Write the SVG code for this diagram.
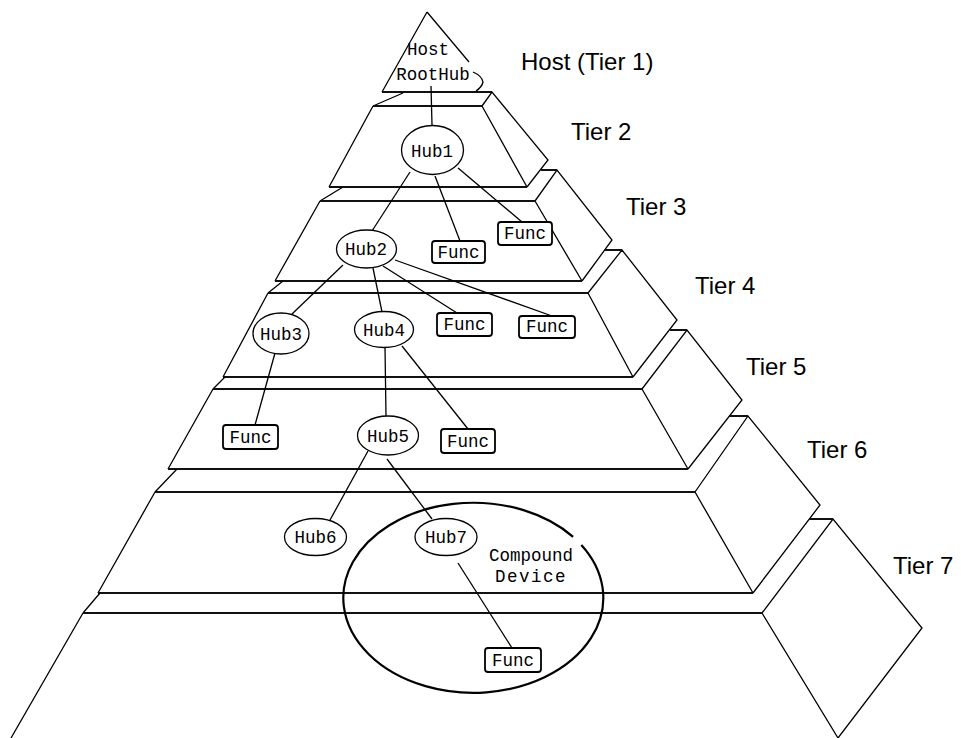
<svg xmlns="http://www.w3.org/2000/svg" width="961" height="738" viewBox="0 0 961 738">
<style>
.edge{fill:none;stroke:#000;stroke-width:1.3;stroke-linejoin:miter}
.front{fill:#fff;stroke:#000;stroke-width:1.3}
.hline{fill:none;stroke:#111;stroke-width:1.8}
.link{fill:none;stroke:#000;stroke-width:1.3}
.hub{fill:#fff;stroke:#000;stroke-width:1.3}
.func{fill:#fff;stroke:#000;stroke-width:1.8}
.nt{font-family:"Liberation Mono","DejaVu Sans Mono",monospace;font-size:17.5px;fill:#000;text-anchor:middle}
.tier{font-family:"Liberation Sans",Arial,sans-serif;font-size:24px;fill:#000}
.cd{fill:none;stroke:#000;stroke-width:2.2}
</style>
<rect width="961" height="738" fill="#fff"/>
<g id="pyramid">
  <g id="tier1">
    <path class="edge" d="M427,12 L382,92 M427,12 L469,62 M473,72 Q482,76 483,82 Q482,87 476,91"/>
    <path class="hline" d="M382,92 L492,92"/>
  </g>
  <g id="tier2">
    <path class="edge" d="M373,106 L329,187 M482,106 L527,187 M482,106 L492,92 L548,160 L527,187 M403,93 L373,106"/>
    <path class="hline" d="M373,106 L482,106 M329,187 L527,187"/>
  </g>
  <g id="tier3">
    <path class="edge" d="M320,201 L275,281 M535,201 L582,281 M535,201 L557,170 L612,240 L582,281 M343,187 L320,201"/>
    <path class="hline" d="M320,201 L535,201 M275,281 L582,281 M541,170 L557,170"/>
  </g>
  <g id="tier4">
    <path class="edge" d="M268,293 L223,377 M588,293 L633,377 M588,293 L622,250 L677,320 L633,377 M283,281 L268,293"/>
    <path class="hline" d="M268,293 L588,293 M223,377 L633,377 M605,250 L622,250"/>
  </g>
  <g id="tier5">
    <path class="edge" d="M213,389 L168,469 M642,389 L688,469 M642,389 L687,330 L742,400 L688,469 M225,377 L213,389"/>
    <path class="hline" d="M213,389 L642,389 M168,469 L688,469 M670,330 L687,330"/>
  </g>
  <g id="tier6">
    <path class="edge" d="M155,492 L98,593 M695,492 L753,593 M695,492 L748,416 L820,505 L753,593 M177,469 L155,492"/>
    <path class="hline" d="M155,492 L695,492 M98,593 L753,593 M729,416 L748,416"/>
  </g>
  <g id="tier7">
    <path class="edge" d="M83,613 L11,738 M762,613 L838,738 M762,613 L833,519 L922,628 L838,738 M100,593 L83,613"/>
    <path class="hline" d="M83,613 L762,613 M809,519 L833,519"/>
  </g>
</g>
<g id="labels">
  <text class="tier" x="521" y="70">Host (Tier 1)</text>
  <text class="tier" x="571" y="140">Tier 2</text>
  <text class="tier" x="626" y="215">Tier 3</text>
  <text class="tier" x="695" y="294">Tier 4</text>
  <text class="tier" x="746" y="375">Tier 5</text>
  <text class="tier" x="807" y="458">Tier 6</text>
  <text class="tier" x="893" y="574">Tier 7</text>
</g>
<g id="compound-device">
  <path class="cd" d="M581.3,544.9 A130,95 0 1 1 573.1,536.9"/>
  <text class="nt" x="531" y="561">Compound</text>
  <text class="nt" x="531" y="582" letter-spacing="1.5">Device</text>
</g>
<g id="connectors">
  <path class="link" d="M431,86 L432,125"/>
  <path class="link" d="M410,172 L372,231"/>
  <path class="link" d="M435,176 L460,241"/>
  <path class="link" d="M458,168 L522,222"/>
  <path class="link" d="M343,265 L292,314"/>
  <path class="link" d="M373,268 L382,312"/>
  <path class="link" d="M383,266 L457,313"/>
  <path class="link" d="M395,260 L552,316"/>
  <path class="link" d="M275,353 L255,425"/>
  <path class="link" d="M385,347 L386,416"/>
  <path class="link" d="M402,346 L468,429"/>
  <path class="link" d="M368,451 L330,520"/>
  <path class="link" d="M387,459 L432,519"/>
  <path class="link" d="M458,563 L512,648"/>
</g>
<g id="host">
  <text class="nt" x="428" y="55">Host</text>
  <text class="nt" x="433" y="80">RootHub</text>
</g>
<g id="hub1"><ellipse class="hub" cx="432.5" cy="150" rx="31" ry="24.5"/><text class="nt" x="432" y="157">Hub1</text></g>
<g id="hub2"><ellipse class="hub" cx="366.5" cy="249" rx="30" ry="19"/><text class="nt" x="366" y="255">Hub2</text></g>
<g id="func-t3a"><rect class="func" x="432" y="241" width="53" height="22" rx="3"/><text class="nt" x="458.5" y="258">Func</text></g>
<g id="func-t3b"><rect class="func" x="498" y="222" width="54" height="23" rx="3"/><text class="nt" x="525" y="239">Func</text></g>
<g id="hub3"><ellipse class="hub" cx="281" cy="333.5" rx="28" ry="20.5"/><text class="nt" x="281" y="340">Hub3</text></g>
<g id="hub4"><ellipse class="hub" cx="384" cy="329.5" rx="29.5" ry="18"/><text class="nt" x="384" y="336">Hub4</text></g>
<g id="func-t4a"><rect class="func" x="437" y="313" width="55" height="23" rx="3"/><text class="nt" x="464.5" y="330">Func</text></g>
<g id="func-t4b"><rect class="func" x="519" y="316" width="56" height="22" rx="3"/><text class="nt" x="547" y="332">Func</text></g>
<g id="func-t5a"><rect class="func" x="223" y="425" width="55" height="24" rx="3"/><text class="nt" x="250.5" y="443">Func</text></g>
<g id="hub5"><ellipse class="hub" cx="388" cy="435.5" rx="30.5" ry="19.5"/><text class="nt" x="388" y="442">Hub5</text></g>
<g id="func-t5b"><rect class="func" x="441" y="429" width="54" height="24" rx="3"/><text class="nt" x="468" y="447">Func</text></g>
<g id="hub6"><ellipse class="hub" cx="315.5" cy="537" rx="31" ry="18.5"/><text class="nt" x="315.5" y="543">Hub6</text></g>
<g id="hub7"><ellipse class="hub" cx="446" cy="537" rx="31" ry="18.5"/><text class="nt" x="446" y="543">Hub7</text></g>
<g id="func-t7"><rect class="func" x="485" y="648" width="56" height="24" rx="3"/><text class="nt" x="513" y="666">Func</text></g>
</svg>
